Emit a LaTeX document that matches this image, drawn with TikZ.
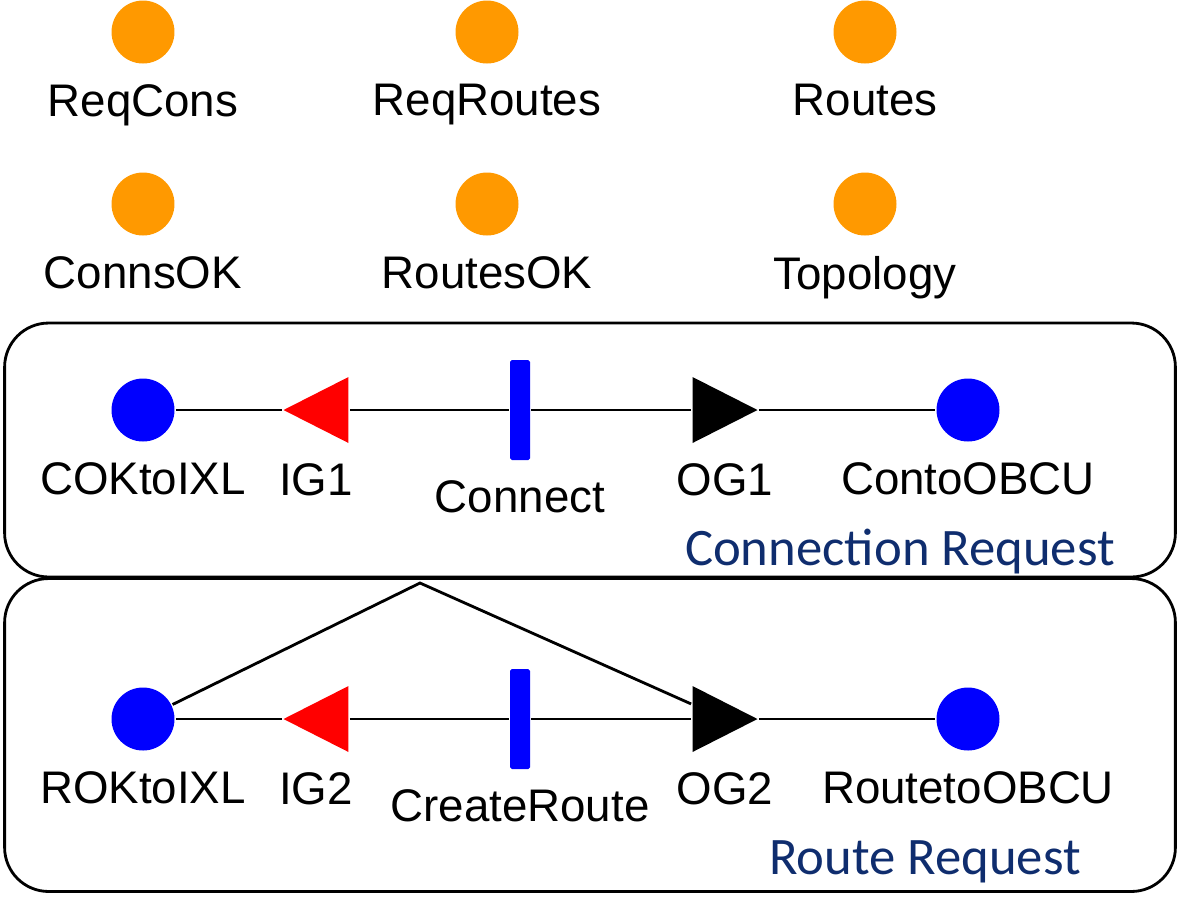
\documentclass[tikz,border=0pt]{standalone}
\usepackage{fontspec}
\setmainfont{Liberation Sans}
\newfontfamily\titlefont{Carlito}
\definecolor{placeorange}{RGB}{255,153,0}
\definecolor{titleblue}{RGB}{15,45,110}

\begin{document}
\begin{tikzpicture}[
  x=0.02cm, y=-0.02cm,
  line width=1.6pt,
  place/.style={circle, fill=blue, minimum size=1.26cm, inner sep=0pt},
  extplace/.style={place, fill=placeorange},
  gate/.style={rectangle, minimum width=1.3cm, minimum height=1.32cm, inner sep=0pt},
  ingate/.style={gate, path picture={\fill[red] (path picture bounding box.west)
      -- (path picture bounding box.north east) -- (path picture bounding box.south east) -- cycle;}},
  outgate/.style={gate, path picture={\fill[black] (path picture bounding box.east)
      -- (path picture bounding box.north west) -- (path picture bounding box.south west) -- cycle;}},
  trans/.style={rectangle, fill=blue, minimum width=0.4cm, minimum height=2cm, inner sep=0pt, rounded corners=1pt},
  group/.style={draw, rounded corners=0.88cm, inner sep=0pt},
  grptitle/.style={font=\titlefont\fontsize{30}{36}\selectfont, text=titleblue, anchor=base, inner sep=0pt},
  every label/.style={font=\fontsize{26}{31}\selectfont, inner sep=0pt},
  label distance=0.36cm
]
\useasboundingbox (0,0) rectangle (1179,897);

\node[extplace, label=below:ReqCons] (reqcons) at (143,32) {};
\node[extplace, label=below:ReqRoutes] (reqroutes) at (487,32) {};
\node[extplace, label=below:Routes] (routes) at (865,32) {};
\node[extplace, label=below:ConnsOK] (connsok) at (143,204) {};
\node[extplace, label=below:RoutesOK] (routesok) at (487,204) {};
\node[extplace, label=below:Topology] (topology) at (865,204) {};

\node[group, minimum width=23.42cm, minimum height=5.08cm] (connreq) at (590,450) {};
\node[group, minimum width=23.42cm, minimum height=6.26cm] (routereq) at (590,735) {};
\node[grptitle] (connreqtitle) at (900,565) {Connection Request};
\node[grptitle] (routereqtitle) at (925,874) {Route Request};

\node[place, label=below:COKtoIXL] (coktoixl) at (143,410) {};
\node[ingate, label=below:IG1] (ig1) at (316,410) {};
\node[trans, label=below:Connect] (connect) at (520,410) {};
\node[outgate, label=below:OG1] (og1) at (725,410) {};
\node[place, label=below:ContoOBCU] (contoobcu) at (968,410) {};

\node[place, label=below:ROKtoIXL] (roktoixl) at (143,719) {};
\node[ingate, label=below:IG2] (ig2) at (316,719) {};
\node[trans, label=below:CreateRoute] (createroute) at (520,719) {};
\node[outgate, label=below:OG2] (og2) at (725,719) {};
\node[place, label=below:RoutetoOBCU] (routetoobcu) at (968,719) {};

\draw (coktoixl) -- (ig1) -- (connect) -- (og1) -- (contoobcu);
\draw (roktoixl) -- (ig2) -- (createroute) -- (og2) -- (routetoobcu);

\coordinate (peak) at (420,583);
\draw (roktoixl) -- (peak) -- (og2);
\end{tikzpicture}
\end{document}
